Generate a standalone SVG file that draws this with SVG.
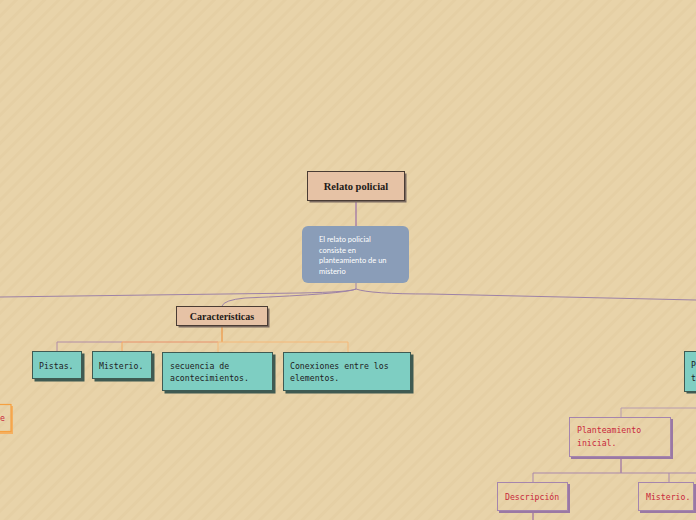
<svg xmlns="http://www.w3.org/2000/svg" width="696" height="520" viewBox="0 0 696 520">
<defs>
<pattern id="stripes" patternUnits="userSpaceOnUse" width="10" height="10" patternTransform="rotate(-45)">
<rect width="10" height="10" fill="#e8d3a9"/>
<rect width="10" height="3" fill="#e5cfa4"/>
</pattern>
<style>
.title{font-family:"Liberation Serif","DejaVu Serif",serif;font-weight:bold;fill:#1e1a18;}
.mono{font-family:"DejaVu Sans Mono","Liberation Mono",monospace;font-size:8.2px;}
.teal{fill:#7ecec2;stroke:#3f5a52;stroke-width:1;}
.tealsh{fill:#3f5a52;}
.peach{fill:#e6c2a5;stroke:#4a3c34;stroke-width:1;}
.peachsh{fill:#7a6a60;}
.pbox{fill:none;stroke:#a585ad;stroke-width:1;}
.pboxsh{fill:none;stroke:#9a78a4;stroke-width:2;}
.red{fill:#c8283c;}
.dark{fill:#222;}
.ln{fill:none;stroke-width:1;}
</style>
</defs>
<rect width="696" height="520" fill="url(#stripes)"/>

<g id="connectors">
<path class="ln" d="M356 200 V227" stroke="#8a5aa6" stroke-width="1.5"/>
<path class="ln" d="M356 283 V289 Q350 292 300 293 L0 297" stroke="#9d82a6" stroke-width="1.2"/>
<path class="ln" d="M356 289 Q345 294 245 298 Q224 300 222 306" stroke="#9d82a6" stroke-width="1.2"/>
<path class="ln" d="M356 289 Q370 294 430 294 L696 300" stroke="#9d82a6" stroke-width="1.2"/>
<path class="ln" d="M222 326 V342" stroke="#f08a30" stroke-width="1.2"/>
<path class="ln" d="M57 351 V342 H122" stroke="#b08ca6"/>
<path class="ln" d="M122 342 H218" stroke="#e8906a"/>
<path class="ln" d="M122 342 V351" stroke="#f5a860"/>
<path class="ln" d="M218 342 V352" stroke="#f5b878"/>
<path class="ln" d="M218 342 H348 V352" stroke="#f5b878"/>
<path class="ln" d="M621 417 V408 H696" stroke="#b89cae" stroke-width="1.2"/>
<path class="ln" d="M621 457 V473" stroke="#8a5aa0" stroke-width="1.5"/>
<path class="ln" d="M533 483 V473 H696" stroke="#a987ab" stroke-width="1.2"/>
<path class="ln" d="M669 473 V483" stroke="#a987ab" stroke-width="1.2"/>
<path class="ln" d="M533 511 V520" stroke="#8a5aa0" stroke-width="1.5"/>
</g>

<g id="relato">
<rect x="309.5" y="173.5" width="97" height="29" class="peachsh"/>
<rect x="307.5" y="171.5" width="97" height="29" class="peach"/>
<text x="356" y="190" text-anchor="middle" class="title" font-size="10.5">Relato policial</text>
</g>

<g id="definicion">
<rect x="302" y="226" width="107" height="57" rx="6" fill="#8a9db8"/>
<g font-family="Lato,'Liberation Sans',sans-serif" font-size="7.5" fill="#ffffff">
<text x="319" y="242">El relato policial</text>
<text x="319" y="252.5">consiste en</text>
<text x="319" y="263">planteamiento de un</text>
<text x="319" y="273.5">misterio</text>
</g>
</g>

<g id="caracteristicas">
<rect x="178.5" y="308.5" width="91" height="19" class="peachsh"/>
<rect x="176.5" y="306.5" width="91" height="19" class="peach"/>
<text x="222" y="320" text-anchor="middle" class="title" font-size="10">Características</text>
</g>

<g id="pistas">
<rect x="34.5" y="353.5" width="50" height="28" class="tealsh"/>
<rect x="32.5" y="351.5" width="49" height="27" class="teal"/>
<text x="39" y="368.5" class="mono dark">Pistas.</text>
</g>

<g id="misterio1">
<rect x="94.5" y="353.5" width="60" height="28" class="tealsh"/>
<rect x="92.5" y="351.5" width="59" height="27" class="teal"/>
<text x="99" y="368.5" class="mono dark">Misterio.</text>
</g>

<g id="secuencia">
<rect x="164.5" y="354.5" width="111" height="39" class="tealsh"/>
<rect x="162.5" y="352.5" width="110" height="38" class="teal"/>
<text x="170" y="368.5" class="mono dark">secuencia de</text>
<text x="170" y="380.5" class="mono dark">acontecimientos.</text>
</g>

<g id="conexiones">
<rect x="285.5" y="354.5" width="128" height="39" class="tealsh"/>
<rect x="283.5" y="352.5" width="127" height="38" class="teal"/>
<text x="290" y="368.5" class="mono dark">Conexiones entre los</text>
<text x="290" y="380.5" class="mono dark">elementos.</text>
</g>

<g id="izquierda">
<path d="M12 406 V433 H-20" fill="none" stroke="#f5b060" stroke-width="2"/>
<rect x="-21" y="404.5" width="32" height="27" fill="none" stroke="#f5a040" stroke-width="1.2"/>
<text x="0" y="421" class="mono red">e</text>
</g>

<g id="derecha">
<rect x="686.5" y="353.5" width="20" height="40" class="tealsh"/>
<rect x="684.5" y="351.5" width="20" height="40" class="teal"/>
<text x="691" y="368" class="mono dark">P</text>
<text x="691" y="380.5" class="mono dark">t</text>
</g>

<g id="planteamiento">
<path d="M672 419 V458 H571" class="pboxsh"/>
<rect x="569.5" y="417.5" width="101" height="39" class="pbox"/>
<text x="577" y="433" class="mono red">Planteamiento</text>
<text x="577" y="446" class="mono red">inicial.</text>
</g>

<g id="descripcion">
<path d="M569 484 V512 H499" class="pboxsh"/>
<rect x="497.5" y="482.5" width="70" height="28" class="pbox"/>
<text x="505" y="499.5" class="mono red">Descripción</text>
</g>

<g id="misterio2">
<path d="M695 484 V512 H640" class="pboxsh"/>
<rect x="638.5" y="482.5" width="55" height="28" class="pbox"/>
<text x="646" y="499.5" class="mono red">Misterio.</text>
</g>
</svg>
